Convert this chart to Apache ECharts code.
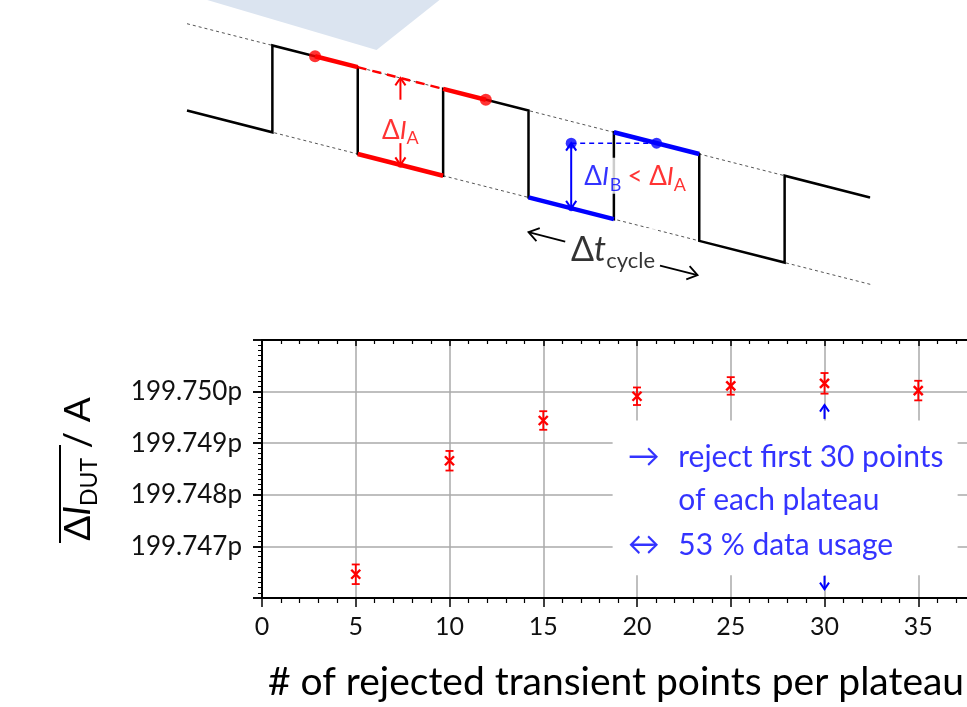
<!DOCTYPE html>
<html>
<head>
<meta charset="utf-8">
<script src="https://cdn.jsdelivr.net/npm/echarts@6/dist/echarts.min.js"></script>
<style>
html, body { margin: 0; padding: 0; background: #fff; }
#chart { width: 967px; height: 707px; }
</style>
</head>
<body>
<div id="chart"></div>
<script>
// lower plot: mean current step vs number of rejected transient points
var rejected = [5, 10, 15, 20, 25, 30, 35];
var meanCurrent = [199.74646, 199.74866, 199.74944, 199.74991, 199.75011, 199.75016, 199.75002];
var currentErr = [0.00019, 0.00019, 0.00018, 0.00017, 0.00017, 0.0002, 0.00019];
var yTickLabels = ['199.747p', '199.748p', '199.749p', '199.750p'];
var markerArrows = [[30, 199.74947, 30, 199.74974, 1], [30, 199.74643, 30, 199.74617, 1]];

// schematic: drifting square wave, t in half cycles, level in drift units
var waveT = [0, 1, 1, 2, 2, 3, 3, 4, 4, 5, 5, 6, 6, 7, 7, 8];
var waveV = [0, -1, 3, 2, -2, -3, 1, 0, -4, -5, -1, -2, -6, -7, -3, -4];
var envTop = [[0, 4], [8.1, -4.1]];
var envBottom = [[0, 0], [8.05, -8.05]];
var redSegs = [[[1.5, 2.5], [2, 2]], [[2, -2], [3, -3]], [[3, 1], [3.5, 0.5]]];
var redDash = [[2, 2], [3, 1]];
var redDots = [[1.5, 2.5], [3.5, 0.5]];
var blueSegs = [[[4, -4], [5, -5]], [[5, -1], [6, -2]]];
var blueDash = [[4.5, -1.5], [5.5, -1.5]];
var blueDots = [[4.5, -1.5], [5.5, -1.5]];
var smallDots = [[2.5, -2.5], [4.5, -4.5]];
// arrows: t0, v0, t1, v1, heads (1 = at end, 2 = both ends)
var redArrows = [[2.5, 0.5, 2.5, 1.5, 1], [2.5, -1.5, 2.5, -2.5, 1]];
var blueArrows = [[4.5, -4.5, 4.5, -1.5, 2]];
var cycleArrows = [[4.43, -6.03, 4.0, -5.6, 1], [5.54, -7.14, 5.98, -7.58, 1]];
var bannerT = [0.23, 2.22, 2.96];
var bannerV = [5.1, 2.79, 5.1];

var RED = '#ff0000';
var BLUE = '#0000ff';
var FONT = 'Lato';

var chart = echarts.init(document.getElementById('chart'));

function arrowItem(color, width, head) {
  return function (params, api) {
    var a = api.coord([api.value(0), api.value(1)]);
    var b = api.coord([api.value(2), api.value(3)]);
    var kids = [{ type: 'line', shape: { x1: a[0], y1: a[1], x2: b[0], y2: b[1] }, style: { stroke: color, lineWidth: width } }];
    function tip(p, q) {
      var ang = Math.atan2(p[1] - q[1], p[0] - q[0]);
      var pts = [
        [p[0] - head * Math.cos(ang - 0.6), p[1] - head * Math.sin(ang - 0.6)],
        p,
        [p[0] - head * Math.cos(ang + 0.6), p[1] - head * Math.sin(ang + 0.6)]
      ];
      kids.push({ type: 'polyline', shape: { points: pts }, style: { stroke: color, lineWidth: width, fill: 'none' } });
    }
    tip(b, a);
    if (api.value(4) === 2) tip(a, b);
    return { type: 'group', children: kids };
  };
}

function errItem(params, api) {
  var x = api.value(0), y = api.value(1), e = api.value(2);
  var c = api.coord([x, y]), hi = api.coord([x, y + e]), lo = api.coord([x, y - e]);
  var cap = 4, m = 4.5;
  var st = { stroke: RED, lineWidth: 1.8 };
  var mk = { stroke: RED, lineWidth: 2.4 };
  return {
    type: 'group',
    children: [
      { type: 'line', shape: { x1: c[0], y1: hi[1], x2: c[0], y2: lo[1] }, style: st },
      { type: 'line', shape: { x1: c[0] - cap, y1: hi[1], x2: c[0] + cap, y2: hi[1] }, style: st },
      { type: 'line', shape: { x1: c[0] - cap, y1: lo[1], x2: c[0] + cap, y2: lo[1] }, style: st },
      { type: 'line', shape: { x1: c[0] - m, y1: c[1] - m, x2: c[0] + m, y2: c[1] + m }, style: mk },
      { type: 'line', shape: { x1: c[0] - m, y1: c[1] + m, x2: c[0] + m, y2: c[1] - m }, style: mk }
    ]
  };
}

function seg(points, color, width, dash, z) {
  return {
    type: 'line', xAxisIndex: 2, yAxisIndex: 2, data: points, symbol: 'none', silent: true,
    z: z || 2, lineStyle: { color: color, width: width, type: dash || 'solid', join: 'miter' }
  };
}

var series = [];
// light blue banner shape at top
series.push({
  type: 'custom', xAxisIndex: 2, yAxisIndex: 2, silent: true, z: 1, data: [[0, 0]],
  renderItem: function (params, api) {
    var pts = bannerT.map(function (t, i) { return api.coord([t, bannerV[i]]); });
    return { type: 'polygon', shape: { points: pts }, style: { fill: '#dbe4f0' } };
  }
});
series.push(seg(envTop, '#555', 1, [3, 3], 1));
series.push(seg(envBottom, '#555', 1, [3, 3], 1));
series.push(seg(waveT.map(function (t, i) { return [t, waveV[i]]; }), '#000', 2.5));
redSegs.forEach(function (s) { series.push(seg(s, RED, 4.5, null, 3)); });
series.push(seg(redDash, RED, 2.5, [9, 6], 3));
blueSegs.forEach(function (s) { series.push(seg(s, BLUE, 4.5, null, 3)); });
series.push(seg(blueDash, BLUE, 1.5, [5, 4], 3));
series.push({ type: 'scatter', xAxisIndex: 2, yAxisIndex: 2, silent: true, z: 4, symbolSize: 12, itemStyle: { color: RED }, data: redDots });
series.push({ type: 'scatter', xAxisIndex: 2, yAxisIndex: 2, silent: true, z: 4, symbolSize: 11, itemStyle: { color: BLUE }, data: blueDots });
series.push({
  type: 'scatter', xAxisIndex: 2, yAxisIndex: 2, silent: true, z: 4, symbolSize: 6,
  itemStyle: { color: function (p) { return p.dataIndex === 0 ? RED : BLUE; } }, data: smallDots
});
series.push({ type: 'custom', xAxisIndex: 2, yAxisIndex: 2, silent: true, z: 4, renderItem: arrowItem(RED, 2, 9), data: redArrows });
series.push({ type: 'custom', xAxisIndex: 2, yAxisIndex: 2, silent: true, z: 4, renderItem: arrowItem(BLUE, 2, 9), data: blueArrows });
series.push({ type: 'custom', xAxisIndex: 2, yAxisIndex: 2, silent: true, z: 4, renderItem: arrowItem('#000', 1.8, 12), data: cycleArrows });
// schematic labels
series.push({
  type: 'scatter', xAxisIndex: 2, yAxisIndex: 2, silent: true, z: 6, symbolSize: 0,
  data: [
    { value: [2.5, -0.9], label: { position: 'inside', formatter: '{rd|Δ}{ri|I}{rs|A}' } },
    { value: [4.63, -3.0], label: { position: 'right', distance: 0, backgroundColor: '#fff', padding: [2, 2, 0, 2], formatter: '{bd|Δ}{bi|I}{bs|B}{rd|< Δ}{ri|I}{rs|A}' } },
    { value: [4.99, -6.42], label: { position: 'inside', backgroundColor: '#fff', formatter: '{kd|Δ}{ki|t}{ks|cycle}' } }
  ],
  label: {
    show: true,
    rich: {
      rd: { color: RED, fontFamily: FONT, fontSize: 26 },
      ri: { color: RED, fontFamily: FONT, fontSize: 26, fontStyle: 'italic' },
      rs: { color: RED, fontFamily: FONT, fontSize: 18, padding: [16, 0, 0, 0] },
      bd: { color: BLUE, fontFamily: FONT, fontSize: 26 },
      bi: { color: BLUE, fontFamily: FONT, fontSize: 26, fontStyle: 'italic', padding: [0, 1, 0, 0] },
      bs: { color: BLUE, fontFamily: FONT, fontSize: 18, padding: [16, 6, 0, 0] },
      kd: { color: '#000', fontFamily: FONT, fontSize: 34 },
      ki: { color: '#000', fontFamily: FONT, fontSize: 34, fontStyle: 'italic' },
      ks: { color: '#000', fontFamily: FONT, fontSize: 22, padding: [22, 0, 0, 0] }
    }
  }
});

// lower plot
series.push({
  type: 'custom', xAxisIndex: 0, yAxisIndex: 0, silent: true, z: 3, renderItem: errItem,
  data: rejected.map(function (x, i) { return [x, meanCurrent[i], currentErr[i]]; }),
  markArea: {
    silent: true,
    itemStyle: { color: '#fff' },
    data: [[{ xAxis: 18.7, yAxis: 199.74644 }, { xAxis: 37.1, yAxis: 199.74944 }]]
  }
});
series.push({ type: 'custom', xAxisIndex: 0, yAxisIndex: 0, silent: true, z: 4, renderItem: arrowItem(BLUE, 2, 8), data: markerArrows });
series.push({
  type: 'scatter', xAxisIndex: 0, yAxisIndex: 0, silent: true, z: 6, symbolSize: 0,
  label: { show: true, position: 'right', distance: 0, color: BLUE, fontFamily: FONT, fontSize: 30, formatter: function (p) { return p.data.text; } },
  data: [
    { value: [19.5, 199.74873], text: '→', label: { fontSize: 32 } },
    { value: [22.2, 199.74873], text: 'reject first 30 points' },
    { value: [22.2, 199.7479], text: 'of each plateau' },
    { value: [19.5, 199.74703], text: '↔', label: { fontSize: 32 } },
    { value: [22.2, 199.74703], text: '53 % data usage' }
  ]
});

var axisBlack = { color: '#000', width: 2 };
var tickBlack = { color: '#000', width: 1.5 };

chart.setOption({
  animation: false,
  grid: [
    { left: 262, top: 340, width: 750, height: 258, outerBoundsMode: 'none', containLabel: false },
    { left: 187, top: 2, width: 683, height: 304, outerBoundsMode: 'none', containLabel: false },
    { left: 262, top: 340, width: 705, height: 258, outerBoundsMode: 'none', containLabel: false }
  ],
  xAxis: [
    {
      gridIndex: 0, type: 'value', min: 0, max: 40, interval: 5,
      axisLine: { lineStyle: axisBlack },
      axisTick: { length: 9, lineStyle: tickBlack },
      minorTick: { show: true, splitNumber: 5, length: 5, lineStyle: { color: '#000', width: 1.2 } },
      axisLabel: { fontFamily: FONT, fontSize: 25, color: '#111', margin: 16 },
      splitLine: { show: true, lineStyle: { color: '#aaa', width: 1.5 } },
      name: '# of rejected transient points per plateau',
      nameLocation: 'middle', nameGap: 65,
      nameTextStyle: { fontFamily: FONT, fontSize: 39, color: '#000', padding: [0, 42, 0, 0] }
    },
    {
      gridIndex: 0, type: 'value', position: 'top', min: 0, max: 40, interval: 5,
      axisLine: { lineStyle: axisBlack },
      axisTick: { inside: true, length: 6, lineStyle: tickBlack },
      minorTick: { show: true, splitNumber: 5, length: 4, lineStyle: { color: '#000', width: 1.2 } },
      axisLabel: { show: false }, splitLine: { show: false }
    },
    { gridIndex: 1, type: 'value', min: 0, max: 8, show: false },
    { gridIndex: 2, type: 'value', min: 0, max: 1, show: false }
  ],
  yAxis: [
    {
      gridIndex: 0, type: 'value', min: 199.746, max: 199.751, interval: 0.001,
      axisLine: { show: true, lineStyle: axisBlack },
      axisTick: { show: true, length: 9, lineStyle: tickBlack },
      minorTick: { show: true, splitNumber: 10, length: 4, lineStyle: { color: '#000', width: 1 } },
      axisLabel: {
        fontFamily: FONT, fontSize: 26, color: '#111', margin: 20, showMinLabel: false, showMaxLabel: false,
        formatter: function (v) {
          var s = v.toFixed(3) + 'p';
          return yTickLabels.indexOf(s) >= 0 ? s : '';
        }
      },
      splitLine: { show: true, lineStyle: { color: '#aaa', width: 1.5 } }
    },
    {
      gridIndex: 2, type: 'value', position: 'right', min: 199.746, max: 199.751, interval: 0.001,
      axisLine: { show: false },
      axisTick: { show: true, inside: true, length: 9, lineStyle: tickBlack },
      axisLabel: { show: false }, splitLine: { show: false }
    },
    { gridIndex: 1, type: 'value', min: -9, max: 5, show: false }
  ],
  graphic: [
    {
      type: 'text', x: 78, y: 469, rotation: Math.PI / 2, z: 10,
      style: {
        text: '{d|Δ}{i|I}{s|DUT}{n| / A}', align: 'center', verticalAlign: 'middle',
        rich: {
          d: { fontFamily: FONT, fontSize: 37, fill: '#000' },
          i: { fontFamily: FONT, fontSize: 37, fontStyle: 'italic', fill: '#000' },
          s: { fontFamily: FONT, fontSize: 23, fill: '#000', padding: [24, 0, 0, 0] },
          n: { fontFamily: FONT, fontSize: 37, fill: '#000' }
        }
      }
    },
    { type: 'line', z: 10, shape: { x1: 60, y1: 445, x2: 60, y2: 543 }, style: { stroke: '#000', lineWidth: 2 } }
  ],
  series: series
});
</script>
</body>
</html>
